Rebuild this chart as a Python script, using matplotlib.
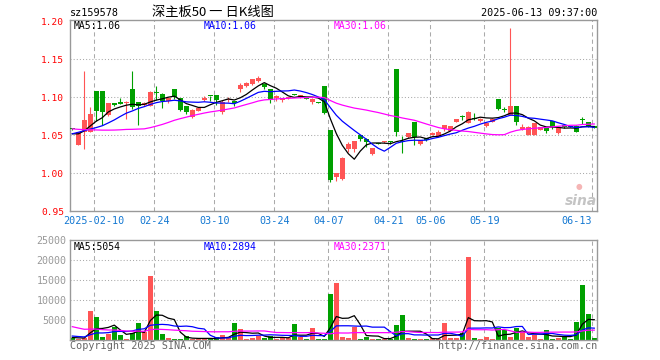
import matplotlib
matplotlib.use('Agg')
import matplotlib.pyplot as plt
import numpy as np
import pandas as pd

# ---------------- data ----------------
tick_idx = [4, 14, 24, 34, 43, 53, 60, 69, 87]
tick_labels = ['2025-02-10', '02-24', '03-10', '03-24', '04-07', '04-21', '05-06', '05-19', '06-13']

open_ = [1.059, 1.0378, 1.0544, 1.0544, 1.1088, 1.108, 1.0763, 1.0921, 1.0943, 1.093,
         1.111, 1.094, 1.090, 1.0885, 1.1065, 1.1043, 1.0957, 1.1109, 1.0987, 1.089,
         1.0739, 1.0826, 1.097, 1.1017, 1.103, 1.0813, 1.0965, 1.0957, 1.1109, 1.1148,
         1.1175, 1.122, 1.117, 1.1106, 1.0996, 1.097, 1.0987, 1.1038, 1.100, 1.0985,
         1.0941, 1.0933, 1.115, 1.057, 0.9947, 0.992, 1.0318, 1.032, 1.0503, 1.045,
         1.0253, 1.039, 1.041, 1.0425, 1.137, 1.042, 1.0475, 1.068, 1.0385, 1.046,
         1.0504, 1.0482, 1.058, 1.056, 1.068, 1.0738, 1.0667, 1.0715, 1.0693, 1.0623,
         1.068, 1.0978, 1.0836, 1.0767, 1.0886, 1.058, 1.0504, 1.0504, 1.057, 1.0592,
         1.0689, 1.0535, 1.0636, 1.0618, 1.0623, 1.0705, 1.068, 1.0623]

close = [1.058, 1.0544, 1.0697, 1.0785, 1.0825, 1.0807, 1.0921, 1.0895, 1.0917, 1.094,
         1.087, 1.088, 1.093, 1.1075, 1.106, 1.0955, 1.0987, 1.0998, 1.0835, 1.081,
         1.0835, 1.0857, 1.0996, 1.1013, 1.0965, 1.0943, 1.0978, 1.0922, 1.1161, 1.1183,
         1.1235, 1.125, 1.1137, 1.0962, 1.1013, 1.0987, 1.0996, 1.1034, 1.1027, 1.098,
         1.098, 1.093, 1.079, 0.9915, 1.000, 1.0205, 1.038, 1.0427, 1.045, 1.0406,
         1.0328, 1.0385, 1.0415, 1.0415, 1.054, 1.041, 1.0525, 1.048, 1.0432, 1.0435,
         1.0535, 1.0548, 1.0636, 1.0623, 1.0715, 1.0736, 1.0811, 1.071, 1.072, 1.0667,
         1.072, 1.0846, 1.0833, 1.0886, 1.068, 1.0614, 1.0614, 1.0658, 1.0605, 1.0561,
         1.0605, 1.0592, 1.061, 1.0614, 1.0548, 1.070, 1.0623, 1.0592]

high = [1.060, 1.0544, 1.1342, 1.0868, 1.1088, 1.108, 1.093, 1.093, 1.0995, 1.095,
        1.135, 1.094, 1.094, 1.108, 1.115, 1.105, 1.099, 1.111, 1.099, 1.089,
        1.084, 1.0865, 1.1017, 1.102, 1.103, 1.0965, 1.100, 1.0957, 1.1183, 1.1204,
        1.124, 1.128, 1.1194, 1.111, 1.1036, 1.0997, 1.1005, 1.104, 1.1036, 1.0988,
        1.0985, 1.0935, 1.115, 1.057, 1.0005, 1.021, 1.0416, 1.043, 1.0505, 1.046,
        1.0335, 1.040, 1.042, 1.0425, 1.137, 1.0495, 1.0535, 1.068, 1.0437, 1.047,
        1.054, 1.057, 1.064, 1.0625, 1.072, 1.077, 1.0825, 1.079, 1.0725, 1.0675,
        1.0725, 1.0978, 1.0868, 1.191, 1.0886, 1.065, 1.062, 1.066, 1.061, 1.0595,
        1.069, 1.0595, 1.064, 1.062, 1.0632, 1.0737, 1.068, 1.0625]

low = [1.057, 1.0368, 1.0325, 1.0544, 1.069, 1.064, 1.075, 1.089, 1.091, 1.071,
       1.085, 1.063, 1.089, 1.088, 1.0965, 1.086, 1.092, 1.098, 1.082, 1.078,
       1.0726, 1.0815, 1.0957, 1.0957, 1.090, 1.0778, 1.0935, 1.089, 1.1074, 1.114,
       1.116, 1.1195, 1.1115, 1.0927, 1.0953, 1.094, 1.098, 1.103, 1.0996, 1.0978,
       1.091, 1.0928, 1.078, 0.989, 0.990, 0.991, 1.0284, 1.0285, 1.0424, 1.035,
       1.024, 1.038, 1.040, 1.038, 1.0495, 1.0265, 1.046, 1.037, 1.037, 1.043,
       1.050, 1.048, 1.0555, 1.0555, 1.0675, 1.070, 1.066, 1.070, 1.068, 1.061,
       1.0675, 1.0833, 1.0803, 1.0767, 1.0636, 1.0575, 1.050, 1.050, 1.0565, 1.0526,
       1.058, 1.052, 1.060, 1.061, 1.054, 1.0649, 1.0615, 1.059]

volume = [500, 300, 400, 7250, 5750, 750, 1580, 3250, 1250, 250,
          1830, 4250, 1900, 16000, 7250, 1500, 580, 250, 250, 1000,
          250, 250, 250, 250, 750, 1250, 750, 4250, 2750, 250,
          500, 1000, 500, 1000, 250, 500, 500, 4000, 750, 250,
          3000, 250, 250, 11500, 14330, 750, 500, 3330, 250, 750,
          250, 250, 250, 250, 3750, 6250, 500, 250, 250, 250,
          500, 250, 4330, 500, 500, 1830, 20830, 500, 250, 750,
          250, 3000, 2500, 750, 3000, 2080, 750, 1250, 250, 2500,
          250, 500, 750, 200, 4500, 13750, 6500, 400]

# closes / volumes of the 29 sessions before the first visible one (for the moving averages)
pre_close = [1.075, 1.080, 1.085, 1.090, 1.088, 1.092, 1.086, 1.082, 1.079, 1.083,
             1.078, 1.084, 1.060, 1.045, 1.030, 1.020, 1.015, 1.018, 1.022, 1.0235,
             1.035, 1.048, 1.058, 1.062, 1.057, 1.055, 1.050, 1.046, 1.051]
pre_volume = [10500, 9800, 6000, 5500, 4800, 4200, 3900, 4000, 4300, 3600,
              3400, 3500, 4000, 3500, 3200, 2700, 3500, 2600, 3300, 3800,
              1500, 1400, 1800, 1200, 900, 700, 600, 800, 500]

price_ticks = [0.95, 1.00, 1.05, 1.10, 1.15, 1.20]
vol_ticks = [5000, 10000, 15000, 20000, 25000]

header_left = 'sz159578'
title = '深主板50 一 日K线图'
stamp = '2025-06-13 09:37:00'
price_ma_text = ['MA5:1.06', 'MA10:1.06', 'MA30:1.06']
vol_ma_text = ['MA5:5054', 'MA10:2894', 'MA30:2371']

# ---------------- style ----------------
W, H = 660, 360
RED = '#ff5555'
GREEN = '#00a000'
MA_COLORS = ['#000000', '#0000ff', '#ff00ff']
FRAME = '#999999'
GRID = '#aaaaaa'
MONO = 'DejaVu Sans Mono'
CJK = ['Noto Sans CJK SC', 'DejaVu Sans']

def fx(x):
    return x / W

def fy(y):
    return 1 - y / H

n = len(close)
x = np.arange(n)
o = np.array(open_)
c = np.array(close)
hi = np.array(high)
lo = np.array(low)
v = np.array(volume, dtype=float)
up = c >= o
colors = [RED if u else GREEN for u in up]

cs = pd.Series(pre_close + close)
vs = pd.Series(pre_volume + volume, dtype=float)
npre = len(pre_close)
ma_price = [cs.rolling(k).mean().values[npre:] for k in (5, 10, 30)]
ma_vol = [vs.rolling(k).mean().values[npre:] for k in (5, 10, 30)]

fig = plt.figure(figsize=(6.6, 3.6), dpi=100)
fig.patch.set_facecolor('white')

L, R = 70, 597
xlim = ((L - 72.3) / 6.0, (R - 72.3) / 6.0)

ax = fig.add_axes([fx(L), fy(211.3), (R - L) / W, (211.3 - 20) / H])
axv = fig.add_axes([fx(L), fy(340), (R - L) / W, 100 / H])

for a in (ax, axv):
    a.set_xlim(*xlim)
    for s in a.spines.values():
        s.set_color(FRAME)
        s.set_linewidth(1.0)
    a.set_xticks([])
    for t in tick_idx:
        a.axvline(t - 0.33, color=GRID, lw=0.75, ls=(0, (4, 3)), zorder=0.5)

# price panel
ax.set_ylim(0.95, 1.2017)
for p in price_ticks[1:-1]:
    ax.axhline(p, color=GRID, lw=0.75, ls=(0, (1, 2)), zorder=0.5)
ax.set_yticks(price_ticks)
ax.set_yticklabels([f'{p:.2f}' for p in price_ticks], family=MONO, fontsize=6.8, color='#ff0000')
ax.tick_params(axis='y', length=0, pad=4.3)

body_bottom = np.minimum(o, c)
body_h = np.maximum(np.abs(c - o), 1.0 / 760)
ax.vlines(x, lo, hi, colors=colors, lw=0.8, zorder=2)
ax.bar(x, body_h, bottom=body_bottom, width=0.8, color=colors, linewidth=0, zorder=3)
for ma, col in zip(ma_price, MA_COLORS):
    ax.plot(x, ma, color=col, lw=0.9, zorder=4)

# volume panel
axv.set_ylim(0, 25000)
for p in vol_ticks[:-1]:
    axv.axhline(p, color=GRID, lw=0.75, ls=(0, (1, 2)), zorder=0.5)
axv.set_yticks(vol_ticks)
axv.set_yticklabels([str(t) for t in vol_ticks], family=MONO, fontsize=7.2, color='#999999')
axv.tick_params(axis='y', length=0, pad=2.4)
axv.bar(x, v, width=0.8, color=colors, linewidth=0, zorder=2)
for ma, col in zip(ma_vol, MA_COLORS):
    axv.plot(x, ma, color=col, lw=0.9, zorder=4)

# date labels
for i, (t, lab) in enumerate(zip(tick_idx, tick_labels)):
    px = 72.3 + 6 * t - 2
    ha = 'right' if i == len(tick_idx) - 1 else 'center'
    fig.text(fx(px), fy(221.5), lab, ha=ha, va='center', family=MONO, fontsize=7.3, color='#1478d2')

# header texts
fig.text(fx(70), fy(12.5), header_left, ha='left', va='center', family=MONO, fontsize=7.3, color='black')
fig.text(fx(213), fy(12.5), title, ha='center', va='center', family=CJK, fontsize=9.5, color='black')
fig.text(fx(597), fy(12.5), stamp, ha='right', va='center', family=MONO, fontsize=7.3, color='black')

for xpos, txt, col in zip((74, 204, 334), price_ma_text, MA_COLORS):
    fig.text(fx(xpos), fy(26), txt, ha='left', va='center', family=MONO, fontsize=7.0, color=col)
for xpos, txt, col in zip((74, 204, 334), vol_ma_text, MA_COLORS):
    fig.text(fx(xpos), fy(247), txt, ha='left', va='center', family=MONO, fontsize=7.0, color=col)

# footer
fig.text(fx(70), fy(346), 'Copyright 2025 SINA.COM', ha='left', va='center', family=MONO, fontsize=7.3, color='#666666')
fig.text(fx(597), fy(346), 'http://finance.sina.com.cn', ha='right', va='center', family=MONO, fontsize=7.3, color='#666666')

# sina watermark
fig.text(fx(579), fy(186), '●', ha='center', va='center', fontsize=5.5, color='#f5b5b5')
fig.text(fx(597), fy(201), 'sina', ha='right', va='center', fontsize=10, style='italic', weight='bold', color='#c4c4c4')

fig.savefig('out.png', dpi=100, facecolor='white')
